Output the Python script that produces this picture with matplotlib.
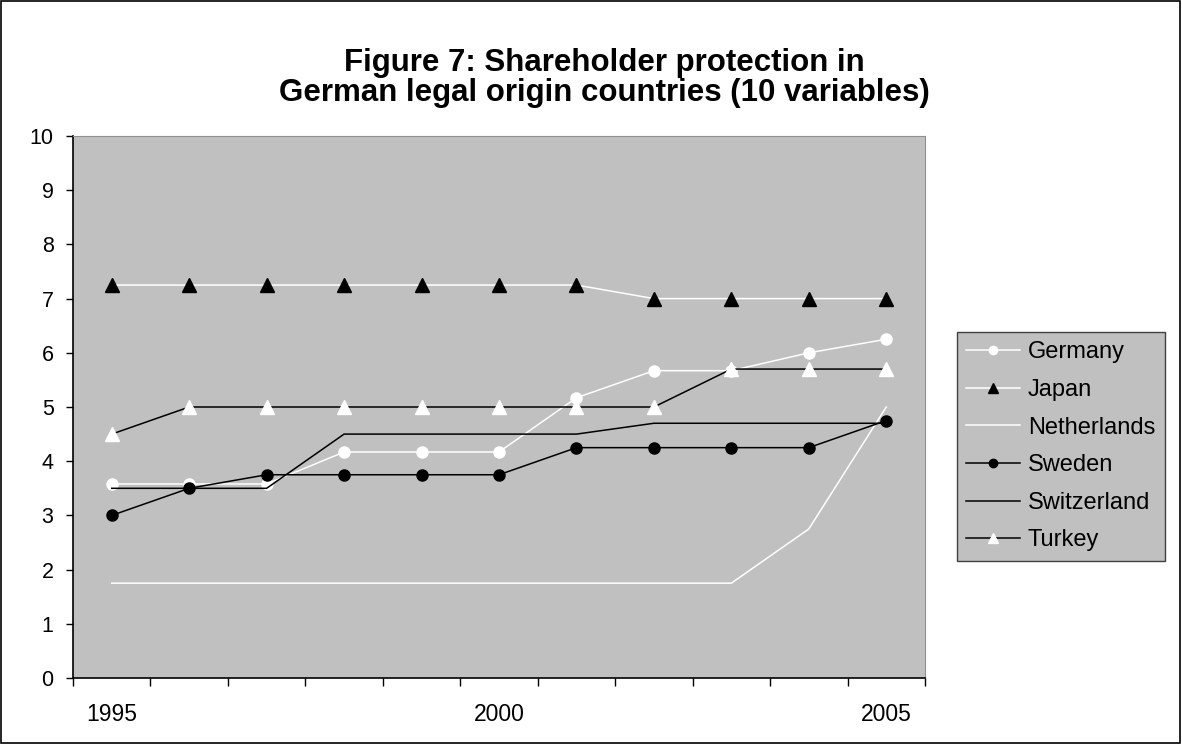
import matplotlib
matplotlib.use("Agg")
import matplotlib.pyplot as plt
from matplotlib.patches import Rectangle

plt.rcParams['font.family'] = ['Liberation Sans', 'DejaVu Sans']

years = list(range(1995, 2006))
germany = [3.58, 3.58, 3.58, 4.17, 4.17, 4.17, 5.17, 5.67, 5.67, 6.0, 6.25]
japan = [7.25, 7.25, 7.25, 7.25, 7.25, 7.25, 7.25, 7.0, 7.0, 7.0, 7.0]
netherlands = [1.75, 1.75, 1.75, 1.75, 1.75, 1.75, 1.75, 1.75, 1.75, 2.75, 5.0]
sweden = [3.0, 3.5, 3.75, 3.75, 3.75, 3.75, 4.25, 4.25, 4.25, 4.25, 4.75]
switzerland = [3.5, 3.5, 3.5, 4.5, 4.5, 4.5, 4.5, 4.7, 4.7, 4.7, 4.7]
turkey = [4.5, 5.0, 5.0, 5.0, 5.0, 5.0, 5.0, 5.0, 5.7, 5.7, 5.7]
year_labels = ["1995", "2000", "2005"]
yticks = list(range(0, 11))

fig = plt.figure(figsize=(11.82, 7.44), dpi=100)
fig.patch.set_facecolor('white')
fig.add_artist(Rectangle((0.0005, 0.001), 0.998, 0.997, transform=fig.transFigure,
                         fill=False, edgecolor='black', linewidth=1.2))

ax = fig.add_axes([73/1182, 1-678/744, (925-73)/1182, (678-136)/744])
ax.set_facecolor('#C0C0C0')

x = list(range(len(years)))
lw = 1.1
ax.plot(x, germany, color='white', lw=lw, marker='o', markersize=8,
        markerfacecolor='white', markeredgecolor='white', label='Germany')
ax.plot(x, japan, color='white', lw=lw, marker='^', markersize=9.5,
        markerfacecolor='black', markeredgecolor='black', label='Japan')
ax.plot(x, netherlands, color='white', lw=lw, label='Netherlands')
ax.plot(x, sweden, color='black', lw=lw, marker='o', markersize=8,
        markerfacecolor='black', markeredgecolor='black', label='Sweden')
ax.plot(x, switzerland, color='black', lw=lw, label='Switzerland')
ax.plot(x, turkey, color='black', lw=lw, marker='^', markersize=9.5,
        markerfacecolor='white', markeredgecolor='white', label='Turkey')

ax.set_xlim(-0.5, len(years) - 0.5)
ax.set_ylim(0, 10)
ax.set_yticks(yticks)
ax.set_yticklabels([str(v) for v in yticks], fontsize=15.5)
ax.tick_params(axis='y', direction='out', length=5, width=1, pad=9)

# category boundary tick marks
ax.set_xticks([i - 0.5 for i in range(len(years) + 1)], minor=True)
ax.tick_params(axis='x', which='minor', direction='out', length=6, width=1)
label_idx = [years.index(int(s)) for s in year_labels]
ax.set_xticks(label_idx)
ax.set_xticklabels(year_labels, fontsize=16.5)
ax.tick_params(axis='x', which='major', length=0, pad=18)

for s in ['left', 'bottom']:
    ax.spines[s].set_color('black')
    ax.spines[s].set_linewidth(1.2)
for s in ['top', 'right']:
    ax.spines[s].set_color('#909090')
    ax.spines[s].set_linewidth(0.8)

fig.text(604/1182, 1-78/744, "Figure 7: Shareholder protection in\nGerman legal origin countries (10 variables)",
         ha='center', va='center', fontsize=22.5, fontweight='bold', linespacing=0.97)

leg = ax.legend(loc='upper left', bbox_to_anchor=(957/1182, 1-332/744),
                bbox_transform=fig.transFigure, fontsize=17, frameon=True,
                fancybox=False, handlelength=2.25, handletextpad=0.35,
                labelspacing=0.66, borderpad=0.4, borderaxespad=0,
                markerscale=0.75)
leg.get_frame().set_facecolor('#C0C0C0')
leg.get_frame().set_edgecolor('#404040')
leg.get_frame().set_linewidth(1.0)
leg.get_frame().set_alpha(1)

fig.savefig('out.png', dpi=100)
